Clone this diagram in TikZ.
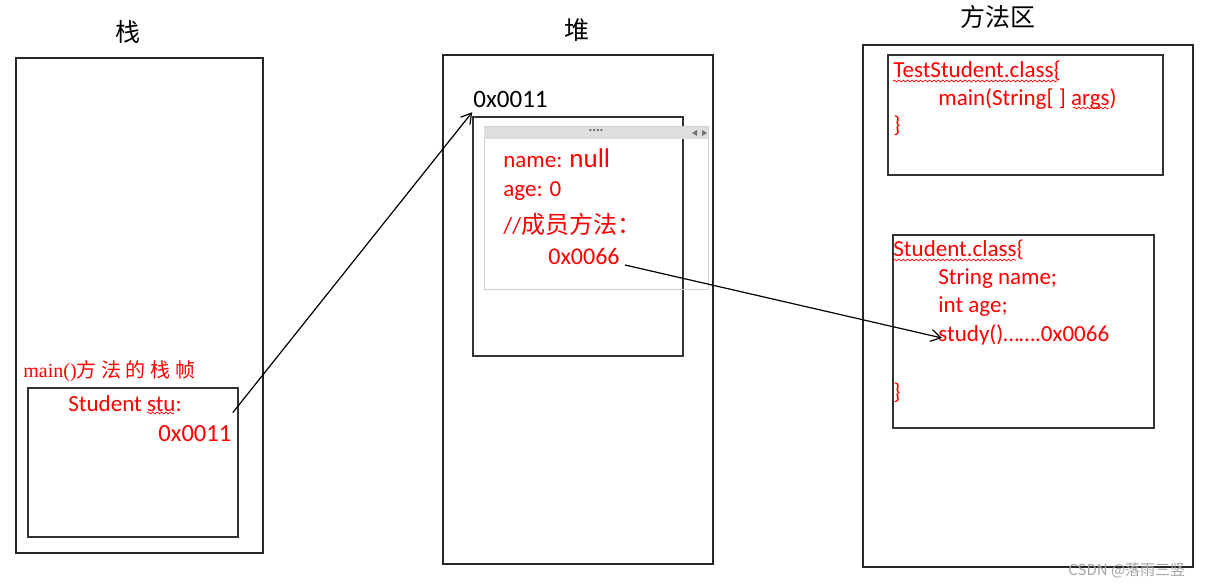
\documentclass[tikz,border=0pt]{standalone}
\usepackage{fontspec}
\setmainfont{Carlito}
\newfontfamily\cjk{Noto Sans CJK SC}
\newfontfamily\serifl{Liberation Serif}
\usetikzlibrary{fit,decorations.pathmorphing,arrows.meta}
\begin{document}
\begin{tikzpicture}[x=0.5pt,y=-0.5pt,
  frame/.style={draw=black!80, line width=0.8pt, inner sep=0pt},
  outer/.style={draw=black!85, line width=0.7pt, inner sep=0pt},
  txt/.style={text=red, font=\fontsize{11.5}{13}\selectfont, anchor=base west, inner sep=0pt},
  title/.style={font=\cjk\fontsize{12.5}{14}\selectfont, inner sep=0pt},
  squiggle/.style={draw=red, line width=0.35pt, decorate, decoration={snake, amplitude=0.45pt, segment length=2.2pt}},
  link/.style={draw=black, line width=0.6pt, -{Straight Barb[length=5pt,width=6pt]}}]
\useasboundingbox (0,0) rectangle (1220,587);
\fill[white] (0,0) rectangle (1220,587);

% ---- stack ----
\node[outer, fit={(16,58) (263,553)}] (stack) {};
\node[title] (stacktitle) at (128,32) {栈};
\node[anchor=base west, inner sep=0pt, text=red, font=\fontsize{10}{12}\selectfont] (framelabel) at (23,378)
  {{\serifl main()}{\cjk 方\hspace{2.3pt}法\hspace{2.3pt}的\hspace{2.3pt}栈\hspace{2.3pt}帧}};
\node[frame, fit={(28,388) (238,537)}] (frame) {};
\node[txt] (stu) at (68,411) {Student stu:};
\node[txt, font=\fontsize{12.3}{14}\selectfont] (stuval) at (158,441) {0x0011};
\draw[squiggle] (147,413) -- (174,413);

% ---- heap ----
\node[outer, fit={(443,55) (713,564)}] (heap) {};
\node[title] (heaptitle) at (577,30) {堆};
\node[anchor=base west, inner sep=0pt, font=\fontsize{12.5}{14}\selectfont] (addr) at (473,108) {0x0011};
\node[frame, fit={(473,117) (683,356)}] (heapobj) {};
\node[draw=black!18, line width=0.5pt, fit={(484,127) (708,290)}, inner sep=0pt] (embed) {};
\fill[black!13] (484,127) rectangle (708,139);
\node[text=black!65, font=\bfseries\fontsize{7}{7}\selectfont, inner sep=0pt] (dots) at (596,131) {....};
\fill[black!55] (692,133) -- (697,130) -- (697,136) -- cycle;
\fill[black!55] (707,133) -- (702,130) -- (702,136) -- cycle;
\node[txt] (name) at (503,168) {name: {\fontsize{13.5}{15}\selectfont null}};
\node[txt] (age) at (503,197) {age: 0};
\node[txt] (member) at (503,234) {//{\cjk\fontsize{12}{14}\selectfont 成员方法：}};
\node[txt, font=\fontsize{12}{14}\selectfont] (n66) at (548,265) {0x0066};

% ---- method area ----
\node[outer, fit={(863,45) (1193,567)}] (method) {};
\node[title] (methodtitle) at (998,17) {方法区};
\node[frame, fit={(888,55) (1163,175)}] (testcls) {};
\node[txt] (t1) at (893,78) {TestStudent.class\{};
\node[txt] (t2) at (938,106) {main(String[ ] args)};
\node[txt] (t3) at (893,133) {\}};
\draw[squiggle] (893,81) -- (1058,81);
\draw[squiggle] (1073,108) -- (1109,108);

\node[frame, fit={(893,235) (1154,428)}] (stucls) {};
\node[txt] (s1) at (893,257) {Student.class\{};
\node[txt] (s2) at (938,285) {String name;};
\node[txt] (s3) at (938,313) {int age;};
\node[txt] (study) at (938,342) {study()…….0x0066};
\node[txt] (s5) at (893,400) {\}};
\draw[squiggle] (893,260) -- (1016,260);

% ---- connectors ----
\draw[link] ([shift={(0.5pt,6pt)}]stuval.north east) -- ([yshift=2pt]heapobj.north west);
\draw[link] ([xshift=2.5pt]n66.base east) -- ([shift={(2pt,2pt)}]study.base west);

% ---- watermark ----
\node[anchor=base west, inner sep=0pt, text=black!35, font=\cjk\fontsize{7.5}{9}\selectfont] (wm) at (1068,575) {CSDN @落雨三竖};
\end{tikzpicture}
\end{document}
